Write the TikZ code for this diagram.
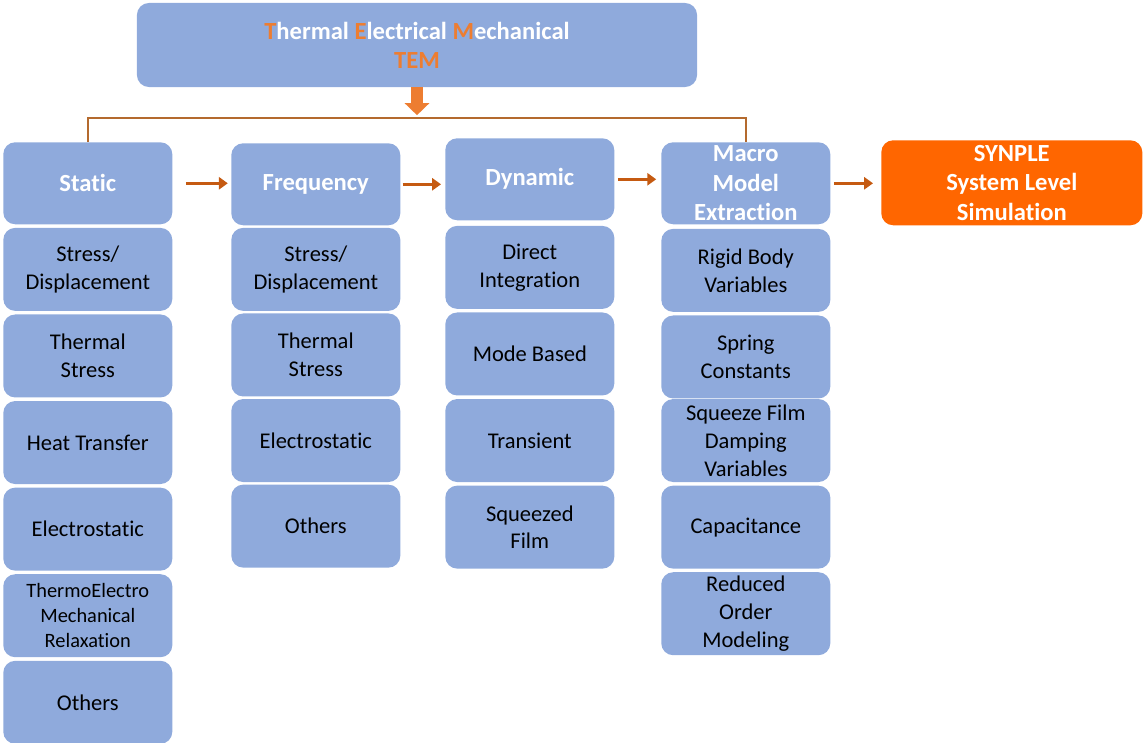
\documentclass[tikz,border=0pt]{standalone}
\usepackage{fontspec}
\setmainfont{Carlito}[Ligatures=NoCommon]
\usetikzlibrary{arrows.meta, positioning}
\definecolor{boxblue}{HTML}{8FAADC}
\definecolor{temorange}{HTML}{ED7D31}
\definecolor{synorange}{HTML}{FF6600}
\definecolor{arrowbrown}{HTML}{C55A11}
\definecolor{linebrown}{HTML}{B46A2E}
\tikzset{
    box/.style={rectangle, fill=boxblue, rounded corners=0.3cm, minimum width=4.225cm, minimum height=2.075cm, inner sep=1pt, align=center, text=black, font=\fontsize{16}{19.8}\selectfont},
    headbox/.style={box, minimum height=2.05cm, text=white, font=\bfseries\fontsize{17.5}{20.8}\selectfont},
    synbox/.style={headbox, fill=synorange, minimum width=6.525cm, minimum height=2.125cm},
    smallbox/.style={box, font=\fontsize{14.5}{17.7}\selectfont},
    flowarrow/.style={-{Triangle[length=2.2mm, width=3mm]}, line width=1.8pt, draw=arrowbrown},
    downarrow/.style={-{Triangle[length=3mm, width=6mm]}, line width=3mm, draw=temorange},
    branch/.style={draw=linebrown, line width=1.5pt}
}

\begin{document}
\begin{tikzpicture}[x=0.025cm, y=-0.025cm, node distance=0.075cm]
    \useasboundingbox (0,0) rectangle (1145,743);
    % top block
    \node[headbox, minimum width=14cm, minimum height=2.1cm] (tem) at (417,45)
        {{\color{temorange}T}hermal {\color{temorange}E}lectrical {\color{temorange}M}echanical\\ {\color{temorange}TEM}};
    \coordinate (split) at (417,118);

    % column heads
    \node[headbox, anchor=north west] (static) at (3,142) {Static};
    \node[headbox, anchor=north west] (freq) at (231,143) {Frequency};
    \node[headbox, anchor=north west] (dyn) at (445,138) {Dynamic};
    \node[headbox, anchor=north west] (macro) at (661,142) {Macro\\ Model\\ Extraction};
    \node[synbox, anchor=north west] (synple) at (881,140) {SYNPLE\\ System Level\\ Simulation};

    % static
    \node[box, below=of static] (s1) {Stress/\\ Displacement};
    \node[box, below=of s1] (s2) {Thermal\\ Stress};
    \node[box, below=of s2] (s3) {Heat Transfer};
    \node[box, below=of s3] (s4) {Electrostatic};
    \node[smallbox, below=of s4] (s5) {ThermoElectro\\ Mechanical\\ Relaxation};
    \node[box, below=of s5] (s6) {Others};

    % frequency
    \node[box, below=0.05cm of freq] (f1) {Stress/\\ Displacement};
    \node[box, below=0.05cm of f1] (f2) {Thermal\\ Stress};
    \node[box, below=0.05cm of f2] (f3) {Electrostatic};
    \node[box, below=0.05cm of f3] (f4) {Others};

    % dynamic
    \node[box, below=0.125cm of dyn] (d1) {Direct\\ Integration};
    \node[box, below=of d1] (d2) {Mode Based};
    \node[box, below=of d2] (d3) {Transient};
    \node[box, below=of d3] (d4) {Squeezed\\ Film};

    % macro model
    \node[box, below=0.1cm of macro] (m1) {Rigid Body\\ Variables};
    \node[box, below=of m1] (m2) {Spring\\ Constants};
    \node[box, below=0.0cm of m2] (m3) {Squeeze Film\\ Damping\\ Variables};
    \node[box, below=of m3] (m4) {Capacitance};
    \node[box, below=of m4] (m5) {Reduced\\ Order\\ Modeling};

    % connectors
    \draw[downarrow, shorten >=2pt] (tem.south) -- (split);
    \draw[branch] (static.north) |- (split) -| (macro.north);
    \draw[flowarrow, shorten <=0.33cm, shorten >=0.08cm] (static.east) -- (static.east -| freq.west);
    \draw[flowarrow, shorten <=0.05cm, shorten >=0.1cm] (freq.east) -- (freq.east -| dyn.west);
    \draw[flowarrow, shorten <=0.08cm, shorten >=0.12cm] (dyn.east) -- (dyn.east -| macro.west);
    \draw[flowarrow, shorten <=0.08cm, shorten >=0.2cm] (macro.east) -- (macro.east -| synple.west);
\end{tikzpicture}
\end{document}
